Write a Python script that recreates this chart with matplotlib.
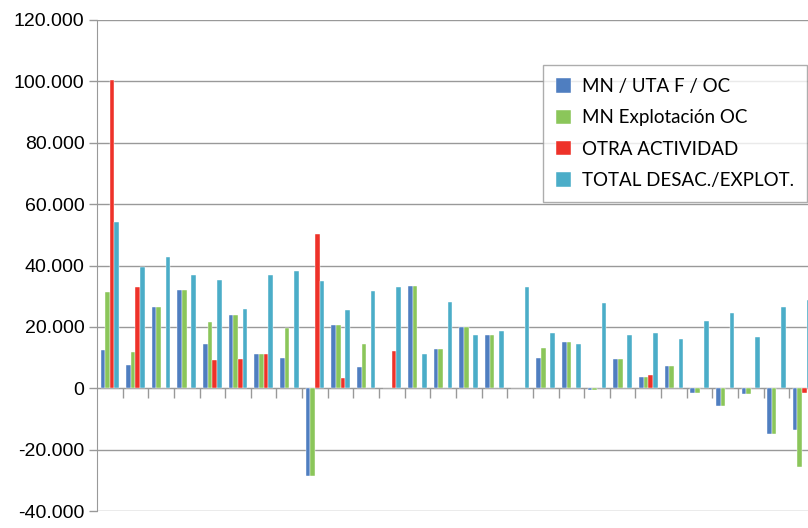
import numpy as np
import matplotlib.pyplot as plt

# [Data]________________________________________________________________________
labels = ["MN / UTA F / OC", "MN Explotación OC", "OTRA ACTIVIDAD", "TOTAL DESAC./EXPLOT."]
colors = ["#4F7EC0", "#8BC65A", "#EE3229", "#4BADC8"]

mn_uta = [12500, 7700, 26400, 31900, 14300, 24000, 11100, 9800, -28600, 20600,
          7000, 0, 33300, 12700, 19900, 17300, 0, 10000, 15000, -500,
          9400, 3600, 7400, -1600, -5900, -1900, -14900, -13600]
mn_explot = [31400, 11700, 26400, 31900, 21600, 24000, 11100, 19700, -28600, 20600,
             14300, 0, 33300, 12700, 19900, 17300, 0, 13000, 15000, -500,
             9400, 3600, 7400, -1600, -5900, -1900, -14900, -25700]
otra = [100600, 32900, 0, 0, 9100, 9400, 11000, 0, 50400, 3500,
        0, 12000, 0, 0, 0, 0, 0, 0, 0, 0,
        0, 4200, 0, 0, 0, 0, 0, -1500]
total = [54300, 39600, 42900, 36800, 35400, 25900, 36900, 38300, 35000, 25500,
         31700, 33100, 11200, 28100, 17300, 18600, 33100, 18100, 14500, 27900,
         17500, 18100, 16100, 21800, 24600, 16600, 26600, 28800]

series = [mn_uta, mn_explot, otra, total]

yticks = [-40000, -20000, 0, 20000, 40000, 60000, 80000, 100000, 120000]
ytick_labels = ["-40.000", "-20.000", "0", "20.000", "40.000", "60.000", "80.000", "100.000", "120.000"]

# [Plot]________________________________________________________________________
n = len(total)
x = np.arange(n)
w = 0.181

fig = plt.figure(figsize=(8.08, 5.28), dpi=100)
# axes run slightly past the right border, the last group is cut like in the source
ax = fig.add_axes([97 / 808, 17 / 528, 717.9 / 808, 491 / 528])

for i, (vals, c, lab) in enumerate(zip(series, colors, labels)):
  ax.bar(x + (i - 1.5) * w, vals, width=w, color=c, label=lab,
         edgecolor="white", linewidth=0.3, zorder=3)

ax.set_xlim(-0.5, n - 0.5)
ax.set_ylim(-40000, 120000)
ax.set_yticks(yticks)
ax.set_yticklabels(ytick_labels, fontsize=14, family="Liberation Sans")
ax.tick_params(axis="y", length=6, width=1, color="#999999", pad=3)

ax.set_xticks(x[:-1] + 0.5)
ax.set_xticklabels([])
ax.tick_params(axis="x", length=7, width=1, color="#999999", direction="out")

ax.spines["bottom"].set_position(("data", 0))
ax.spines["bottom"].set_color("#999999")
ax.spines["left"].set_color("#999999")
ax.spines["top"].set_visible(False)
ax.spines["right"].set_visible(False)
ax.yaxis.grid(True, color="#999999", linewidth=1, zorder=0)
ax.set_axisbelow(True)

leg = ax.legend(loc="upper left", bbox_to_anchor=(542.7 / 808, 1 - 65 / 528), bbox_transform=fig.transFigure,
                prop={"family": "Lato", "size": 13.5}, frameon=True, fancybox=False,
                handlelength=0.8, handleheight=0.8, handletextpad=0.6, labelspacing=0.76,
                borderpad=0.7, borderaxespad=0)
leg.get_frame().set_edgecolor("#999999")
leg.get_frame().set_linewidth(1)
leg.set_zorder(5)

fig.savefig("out.png", dpi=100)
